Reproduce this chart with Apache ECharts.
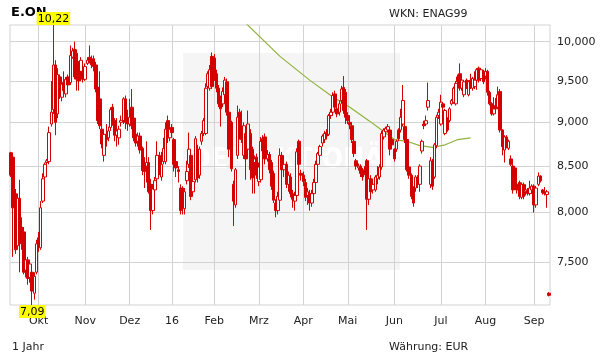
<!DOCTYPE html>
<html><head><meta charset="utf-8">
<script src="https://cdn.jsdelivr.net/npm/echarts@6/dist/echarts.min.js"></script>
<style>html,body{margin:0;padding:0;background:#fff}#c{width:611px;height:364px}</style>
</head><body><div id="c"></div>
<script>
// Trading calendar (Xetra), 1 year
const startDate = '2015-09-14';
const endDate = '2016-09-12';
const holidays = ['2015-12-24','2015-12-25','2015-12-31','2016-01-01','2016-03-25','2016-03-28'];
const monthLabels = ['16','Feb','Mrz','Apr','Mai','Jun','Jul','Aug','Sep','Okt','Nov','Dez'];
const yTicks = [7.5, 8, 8.5, 9, 9.5, 10];

const open = [
8.65,8.60,8.20,7.66,8.15,7.85,7.80,7.42,7.52,7.35,
7.40,7.20,7.40,7.74,7.64,8.12,8.38,8.54,8.55,8.98,
9.15,9.70,9.10,9.55,9.30,9.48,9.34,9.55,9.48,9.80,
9.90,9.85,9.70,9.62,9.62,9.52,9.72,9.80,9.76,9.78,
9.70,9.42,9.28,8.92,8.62,8.86,8.82,8.94,9.18,9.02,
8.85,8.82,9.00,9.02,9.28,9.05,8.98,9.18,9.05,8.86,
8.78,8.84,8.70,8.52,8.50,8.54,8.30,8.02,8.24,8.36,
8.62,8.38,8.55,8.55,9.02,8.82,8.94,8.80,8.55,8.46,
8.26,8.26,8.04,8.34,8.52,8.62,8.22,8.35,8.69,8.40,
8.78,8.87,8.87,9.43,9.41,9.81,9.79,9.59,9.41,9.28,
9.22,9.33,9.49,9.12,9.00,8.30,8.08,8.62,9.12,8.91,
8.62,8.87,8.69,8.87,8.69,8.54,8.60,8.33,8.35,8.81,
8.83,8.58,8.63,8.54,8.42,8.10,8.02,8.13,8.62,8.46,
8.52,8.30,8.38,8.20,8.12,8.18,8.78,8.42,8.40,8.32,
8.18,8.20,8.10,8.20,8.32,8.52,8.62,8.76,8.80,8.88,
8.86,9.08,9.12,9.34,9.16,9.12,9.26,9.42,9.36,9.08,
9.00,8.96,8.78,8.56,8.48,8.50,8.44,8.46,8.56,8.14,
8.36,8.24,8.24,8.36,8.38,8.49,8.83,8.89,8.91,8.91,
8.80,8.69,8.69,8.91,8.91,8.98,8.95,8.80,8.49,8.40,
8.26,8.26,8.37,8.30,8.67,8.98,8.98,9.18,8.30,8.54,
8.38,8.73,9.08,8.98,9.22,8.87,9.04,9.02,9.22,9.24,
9.22,9.55,9.59,9.41,9.33,9.51,9.33,9.51,9.41,9.43,
9.51,9.66,9.53,9.62,9.56,9.62,9.36,9.22,9.10,9.20,
9.18,9.37,8.91,8.68,8.83,8.70,8.58,8.50,8.48,8.30,
8.32,8.16,8.30,8.22,8.24,8.20,8.24,8.28,8.08,8.30,
8.39,8.24,8.22,8.19,7.20];
const close = [
8.40,8.05,7.62,8.15,7.82,7.68,7.40,7.52,7.34,7.48,
7.22,7.36,7.68,7.66,8.05,8.36,8.52,8.56,8.88,9.12,
9.70,9.00,9.58,9.32,9.46,9.38,9.52,9.45,9.82,9.88,
9.55,9.52,9.50,9.76,9.52,9.68,9.76,9.76,9.70,9.68,
9.40,9.02,8.96,8.75,8.86,8.80,8.90,9.15,8.98,8.85,
8.90,8.92,9.02,9.28,9.00,8.98,9.06,8.96,8.82,8.76,
8.84,8.68,8.45,8.44,8.54,8.22,8.02,8.25,8.34,8.62,
8.46,8.52,8.70,8.92,8.82,8.92,8.88,8.52,8.48,8.44,
8.02,8.20,8.22,8.44,8.69,8.17,8.33,8.81,8.37,8.69,
8.87,9.02,9.41,9.59,9.64,9.43,9.55,9.41,9.22,9.16,
9.37,9.51,9.12,8.69,8.47,8.12,8.46,9.06,8.83,8.80,
8.96,8.58,8.98,8.46,8.37,8.58,8.40,8.49,8.78,8.67,
8.58,8.63,8.46,8.28,8.13,8.02,8.17,8.62,8.46,8.52,
8.30,8.40,8.20,8.14,8.18,8.66,8.52,8.40,8.33,8.16,
8.22,8.10,8.20,8.32,8.52,8.64,8.72,8.84,8.87,8.84,
9.08,9.12,9.32,9.18,9.10,9.22,9.40,9.14,9.06,9.02,
8.97,8.80,8.64,8.50,8.50,8.42,8.38,8.42,8.14,8.36,
8.22,8.30,8.38,8.40,8.49,8.87,8.91,8.93,8.95,8.69,
8.74,8.58,8.78,8.81,9.06,9.26,8.80,8.46,8.40,8.17,
8.10,8.38,8.30,8.50,8.78,8.96,9.02,9.26,8.56,8.28,
8.74,9.06,9.12,9.24,9.18,9.14,8.91,9.16,9.26,9.41,
9.47,9.49,9.41,9.51,9.49,9.43,9.49,9.43,9.53,9.51,
9.64,9.51,9.64,9.49,9.62,9.36,9.22,9.10,9.16,9.16,
9.33,8.91,8.72,8.83,8.72,8.78,8.52,8.24,8.27,8.24,
8.17,8.30,8.17,8.24,8.20,8.26,8.28,8.08,8.26,8.39,
8.34,8.21,8.20,8.22,7.18];
const low = [
8.38,7.55,7.58,7.62,7.40,7.62,7.38,7.35,7.28,7.30,
7.09,7.14,7.38,7.60,7.62,8.10,8.36,8.52,8.52,8.95,
9.10,8.85,9.05,9.28,9.25,9.35,9.30,9.40,9.45,9.78,
9.52,9.38,9.38,9.55,9.48,9.50,9.70,9.72,9.66,9.62,
9.36,8.98,8.92,8.70,8.55,8.72,8.78,8.90,8.96,8.78,
8.72,8.74,8.95,8.98,8.92,8.90,8.95,8.92,8.78,8.72,
8.72,8.64,8.40,8.26,8.32,8.20,7.82,7.98,8.20,8.32,
8.40,8.34,8.52,8.52,8.76,8.78,8.84,8.44,8.38,8.32,
7.98,7.98,7.98,8.30,8.48,8.13,8.18,8.32,8.32,8.36,
8.74,8.84,8.85,9.38,9.38,9.40,9.50,9.36,9.18,8.95,
9.18,9.30,9.08,8.60,8.44,7.86,8.05,8.58,8.80,8.76,
8.58,8.35,8.65,8.35,8.20,8.20,8.36,8.28,8.32,8.62,
8.52,8.55,8.42,8.24,8.10,7.95,7.98,8.10,8.42,8.38,
8.26,8.22,8.16,8.05,8.02,8.15,8.50,8.34,8.28,8.12,
8.08,8.02,8.06,8.16,8.28,8.48,8.60,8.72,8.76,8.80,
8.84,9.04,9.08,9.14,9.06,9.08,9.22,9.10,8.98,8.98,
8.92,8.76,8.60,8.46,8.45,8.38,8.34,8.40,7.82,8.08,
8.18,8.20,8.22,8.30,8.35,8.46,8.80,8.86,8.88,8.62,
8.70,8.55,8.66,8.78,8.88,8.95,8.76,8.44,8.36,8.14,
8.06,8.22,8.26,8.22,8.64,8.92,8.96,9.14,8.26,8.24,
8.36,8.70,9.04,8.96,9.15,8.85,8.89,9.00,9.20,9.22,
9.20,9.45,9.38,9.38,9.30,9.40,9.31,9.40,9.38,9.40,
9.39,9.48,9.50,9.46,9.52,9.32,9.20,9.08,9.08,9.14,
9.16,8.88,8.62,8.54,8.70,8.68,8.50,8.20,8.24,8.20,
8.14,8.14,8.14,8.18,8.18,8.18,8.20,8.00,8.05,8.28,
8.32,8.19,8.18,8.05,7.17];
const high = [
8.66,8.64,8.25,8.20,8.35,7.95,7.85,7.58,7.55,7.52,
7.48,7.40,7.72,7.80,8.12,8.42,8.54,8.58,8.95,9.50,
10.22,9.76,9.66,9.58,9.50,9.62,9.55,9.58,9.95,9.92,
10.00,9.90,9.75,9.80,9.66,9.72,9.80,9.95,9.82,9.82,
9.74,9.48,9.62,8.96,8.90,8.98,8.95,9.18,9.22,9.05,
9.05,8.96,9.08,9.30,9.32,9.15,9.28,9.40,9.12,9.00,
8.88,8.88,8.72,8.60,8.78,8.60,8.36,8.30,8.38,8.78,
8.66,8.66,8.82,9.00,9.08,9.02,8.98,8.82,8.58,8.50,
8.30,8.28,8.26,8.56,8.88,8.66,8.36,8.84,8.74,8.72,
8.90,9.05,9.47,9.62,9.70,9.86,9.84,9.64,9.45,9.32,
9.42,9.55,9.53,9.16,9.02,8.34,8.48,9.20,9.16,9.14,
9.00,8.92,9.14,8.92,8.72,8.62,8.64,8.54,8.83,8.85,
8.87,8.68,8.66,8.57,8.45,8.14,8.22,8.70,8.66,8.60,
8.55,8.44,8.42,8.24,8.22,8.70,8.80,8.46,8.44,8.36,
8.26,8.24,8.24,8.36,8.56,8.66,8.74,8.86,8.90,8.92,
9.10,9.16,9.36,9.38,9.20,9.26,9.44,9.56,9.40,9.12,
9.04,9.00,8.82,8.58,8.53,8.52,8.48,8.50,8.58,8.40,
8.40,8.34,8.40,8.50,8.52,8.90,8.93,8.95,8.98,8.93,
8.82,8.70,8.80,8.93,9.16,9.45,8.98,8.82,8.52,8.42,
8.28,8.40,8.40,8.52,8.80,9.02,9.08,9.48,8.60,8.58,
8.76,9.09,9.16,9.33,9.24,9.16,9.06,9.18,9.28,9.43,
9.50,9.58,9.72,9.53,9.51,9.53,9.51,9.59,9.55,9.62,
9.66,9.68,9.66,9.64,9.66,9.64,9.38,9.24,9.30,9.29,
9.43,9.40,8.92,8.85,8.85,8.80,8.62,8.52,8.50,8.32,
8.34,8.32,8.32,8.30,8.26,8.34,8.30,8.30,8.28,8.43,
8.40,8.25,8.27,8.24,7.21];

// moving average line, read at sample points (category index -> value)
const maIndex = [111,127,141,151,160,169,175,181,187,193,199,205,211,217];
const maValue = [10.24,9.81,9.51,9.32,9.18,9.02,8.91,8.80,8.78,8.73,8.71,8.74,8.80,8.82];

// build trading-day categories
function pad(n){return n<10?'0'+n:''+n;}
const dates = [];
(function(){
  const d = new Date(startDate+'T00:00:00Z'), e = new Date(endDate+'T00:00:00Z');
  while (d <= e) {
    const s = d.getUTCFullYear()+'-'+pad(d.getUTCMonth()+1)+'-'+pad(d.getUTCDate());
    const wd = d.getUTCDay();
    if (wd !== 0 && wd !== 6 && holidays.indexOf(s) < 0) dates.push(s);
    d.setUTCDate(d.getUTCDate()+1);
  }
})();
const isMonthStart = dates.map((s,i)=> i>0 && s.slice(5,7) !== dates[i-1].slice(5,7));
const candles = dates.map((s,i)=>[open[i], close[i], low[i], high[i]]);
const maData = dates.map(()=>null);
maIndex.forEach((k,j)=>{ maData[k] = maValue[j]; });

const FONT = '"DejaVu Sans", Verdana, sans-serif';
const RED = '#d40000';
const chart = echarts.init(document.getElementById('c'), null, {renderer:'canvas'});
chart.setOption({
  animation: false,
  backgroundColor: '#fff',
  grid: {left: 10, right: 61, top: 25, bottom: 59, show: true, borderColor: '#d3d3d3', borderWidth: 1, backgroundColor: 'transparent'},
  xAxis: {
    type: 'category', data: dates, boundaryGap: true,
    axisLine: {show: false}, axisTick: {show: false},
    axisLabel: {
      interval: (i)=>isMonthStart[i],
      formatter: (v)=>monthLabels[parseInt(v.slice(5,7),10)-1],
      color: '#222', fontSize: 11, fontFamily: FONT, margin: 11
    },
    splitLine: {show: true, interval: (i)=>isMonthStart[i], alignWithLabel: true, lineStyle: {color: '#d3d3d3', width: 1}}
  },
  yAxis: {
    type: 'log', logBase: 10, min: 7.09, max: 10.22, position: 'right',
    axisLine: {show: false},
    axisTick: {show: false, customValues: yTicks},
    axisLabel: {customValues: yTicks, formatter: (v)=>Number(v).toFixed(3).replace('.', ','), color: '#222', fontSize: 11, fontFamily: FONT, margin: 7},
    splitLine: {show: true, lineStyle: {color: '#d3d3d3', width: 1}}
  },
  graphic: [
    {type: 'rect', z: -10, silent: true, shape: {x: 183, y: 53, width: 217, height: 217}, style: {fill: '#f5f5f5'}},
    {type: 'text', z: -9, silent: true, x: 190, y: 161, style: {text: 'DER AKTIONÄR', fontSize: 28, fontWeight: 'bold', fontFamily: '"DejaVu Sans Condensed", "DejaVu Sans", sans-serif', fill: '#ffffff', verticalAlign: 'middle'}},
    {type: 'text', x: 11, y: 13, z: 10, style: {text: 'E.ON', fontSize: 13, fontWeight: 'bold', fontFamily: FONT, fill: '#000', verticalAlign: 'middle'}},
    {type: 'text', x: 389, y: 14, style: {text: 'WKN: ENAG99', fontSize: 11, fontFamily: FONT, fill: '#222', verticalAlign: 'middle'}},
    {type: 'text', x: 12, y: 347, style: {text: '1 Jahr', fontSize: 11, fontFamily: FONT, fill: '#222', verticalAlign: 'middle'}},
    {type: 'text', x: 389, y: 347, style: {text: 'Währung: EUR', fontSize: 11, fontFamily: FONT, fill: '#222', verticalAlign: 'middle'}}
  ],
  series: [
    {
      type: 'line', data: maData, connectNulls: true, showSymbol: false, symbol: 'none',
      lineStyle: {color: '#8fb33c', width: 1.2}, z: 1, silent: true
    },
    {
      type: 'candlestick', data: candles, barWidth: 3, z: 3,
      itemStyle: {color: '#ffffff', color0: RED, borderColor: RED, borderColor0: RED, borderWidth: 1},
      markPoint: {
        symbol: 'rect', symbolSize: 0.1, silent: true, z: 20,
        itemStyle: {color: 'rgba(0,0,0,0)'},
        label: {
          show: true, formatter: (p)=>Number(p.value).toFixed(2).replace('.', ','),
          backgroundColor: '#ffff00', color: '#000', fontSize: 11, fontFamily: FONT,
          padding: [1, 1, 0, 1], lineHeight: 12, distance: 0
        },
        data: [
          {type: 'max', valueDim: 'highest', label: {position: 'top'}},
          {type: 'min', valueDim: 'lowest', label: {position: 'bottom'}}
        ]
      }
    }
  ]
});
</script>
</body></html>
